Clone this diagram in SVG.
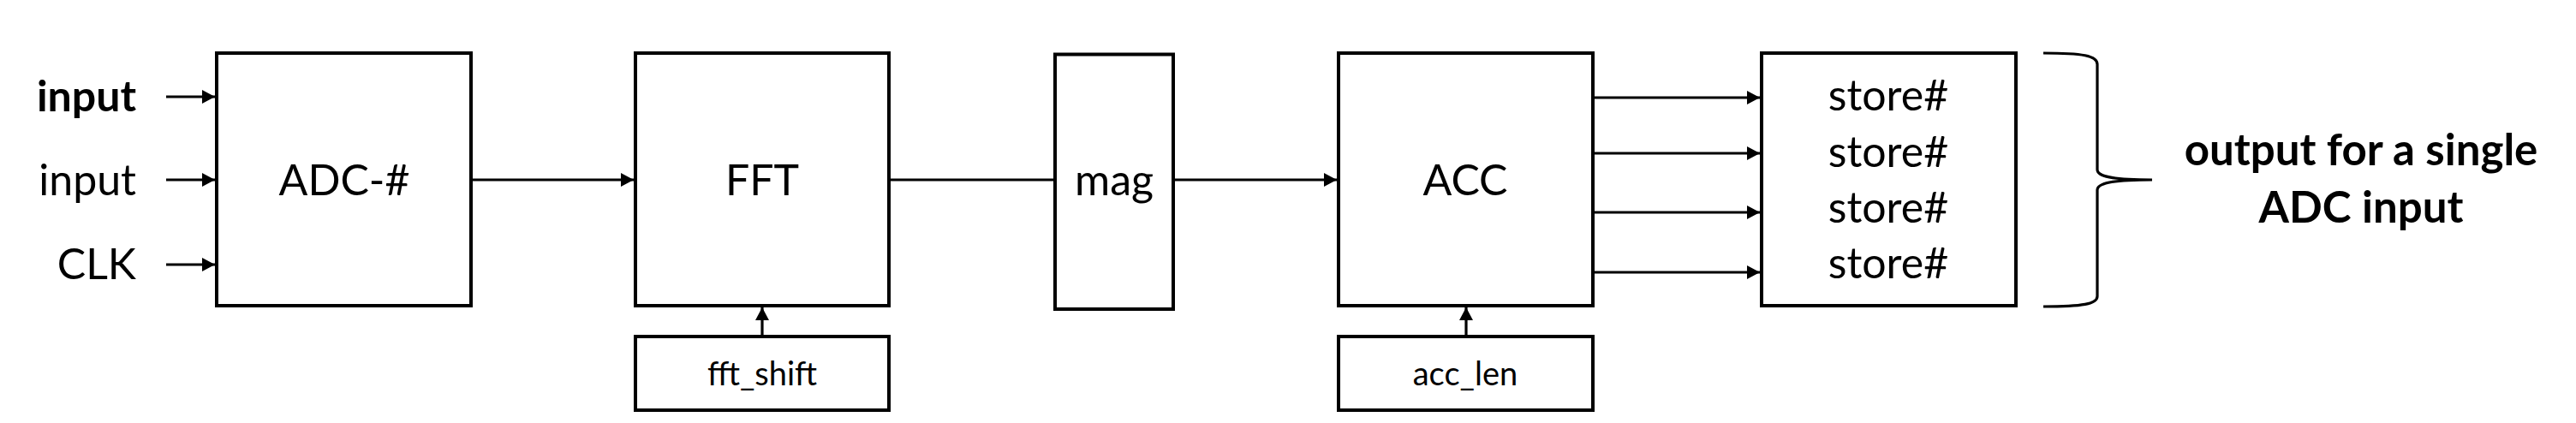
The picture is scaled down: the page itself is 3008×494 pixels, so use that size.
<svg xmlns="http://www.w3.org/2000/svg" width="3008" height="494" viewBox="0 0 3008 494">
<style>
.box{fill:#fff;stroke:#000;stroke-width:4}
.t{font-family:Lato,"Liberation Sans",sans-serif;font-size:50px;fill:#000;text-anchor:middle}
.b{font-weight:bold;font-size:51px}
.s{font-size:38px}
.c{stroke:#000;stroke-width:3.2;fill:none}
</style>
<defs>
<marker id="ah" markerUnits="userSpaceOnUse" markerWidth="15" markerHeight="16" refX="15" refY="8" orient="auto">
<path d="M0,0 L15,8 L0,16 z" fill="#000"/>
</marker>
</defs>
<rect width="3008" height="494" fill="#fff"/>
<g id="labels-in">
<text class="t b" x="159" y="130" style="text-anchor:end;font-size:50px">input</text>
<text class="t" x="159" y="228" style="text-anchor:end">input</text>
<text class="t" x="159" y="326" style="text-anchor:end">CLK</text>
</g>
<g id="adc"><rect class="box" x="253" y="62" width="297" height="295"/><text class="t" x="402" y="228">ADC-#</text></g>
<g id="fft"><rect class="box" x="742" y="62" width="296" height="295"/><text class="t" x="890" y="228">FFT</text></g>
<g id="fft_shift"><rect class="box" x="742" y="393" width="296" height="86"/><text class="t s" x="890" y="450">fft_shift</text></g>
<g id="mag"><rect class="box" x="1232" y="63.5" width="138" height="297.5"/><text class="t" x="1301" y="228">mag</text></g>
<g id="acc"><rect class="box" x="1563" y="62" width="297" height="295"/><text class="t" x="1711" y="228">ACC</text></g>
<g id="acc_len"><rect class="box" x="1563" y="393" width="297" height="86"/><text class="t s" x="1711" y="450">acc_len</text></g>
<g id="store"><rect class="box" x="2057" y="62" width="297" height="295"/>
<text class="t" x="2205" y="129">store#</text>
<text class="t" x="2205" y="195">store#</text>
<text class="t" x="2205" y="260">store#</text>
<text class="t" x="2205" y="325">store#</text>
</g>
<g id="output"><path class="c" d="M2386,62 C2432,62 2449,65 2449,75 L2449,198 C2449,206 2465,210 2513,210 C2465,210 2449,214 2449,222 L2449,346 C2449,355 2432,358 2386,358"/>
<text class="t b" x="2757" y="193">output for a single</text>
<text class="t b" x="2757" y="260">ADC input</text>
</g>
<g id="connectors">
<line class="c" x1="194" y1="113" x2="251" y2="113" marker-end="url(#ah)"/>
<line class="c" x1="194" y1="210" x2="251" y2="210" marker-end="url(#ah)"/>
<line class="c" x1="194" y1="309" x2="251" y2="309" marker-end="url(#ah)"/>
<line class="c" x1="550" y1="210" x2="740" y2="210" marker-end="url(#ah)"/>
<line class="c" x1="1038" y1="210" x2="1232" y2="210"/>
<line class="c" x1="1370" y1="210" x2="1561" y2="210" marker-end="url(#ah)"/>
<line class="c" x1="1860" y1="114" x2="2055" y2="114" marker-end="url(#ah)"/>
<line class="c" x1="1860" y1="179" x2="2055" y2="179" marker-end="url(#ah)"/>
<line class="c" x1="1860" y1="248" x2="2055" y2="248" marker-end="url(#ah)"/>
<line class="c" x1="1860" y1="318" x2="2055" y2="318" marker-end="url(#ah)"/>
<line class="c" x1="890" y1="393" x2="890" y2="359" marker-end="url(#ah)"/>
<line class="c" x1="1712" y1="393" x2="1712" y2="359" marker-end="url(#ah)"/>
</g>
</svg>
